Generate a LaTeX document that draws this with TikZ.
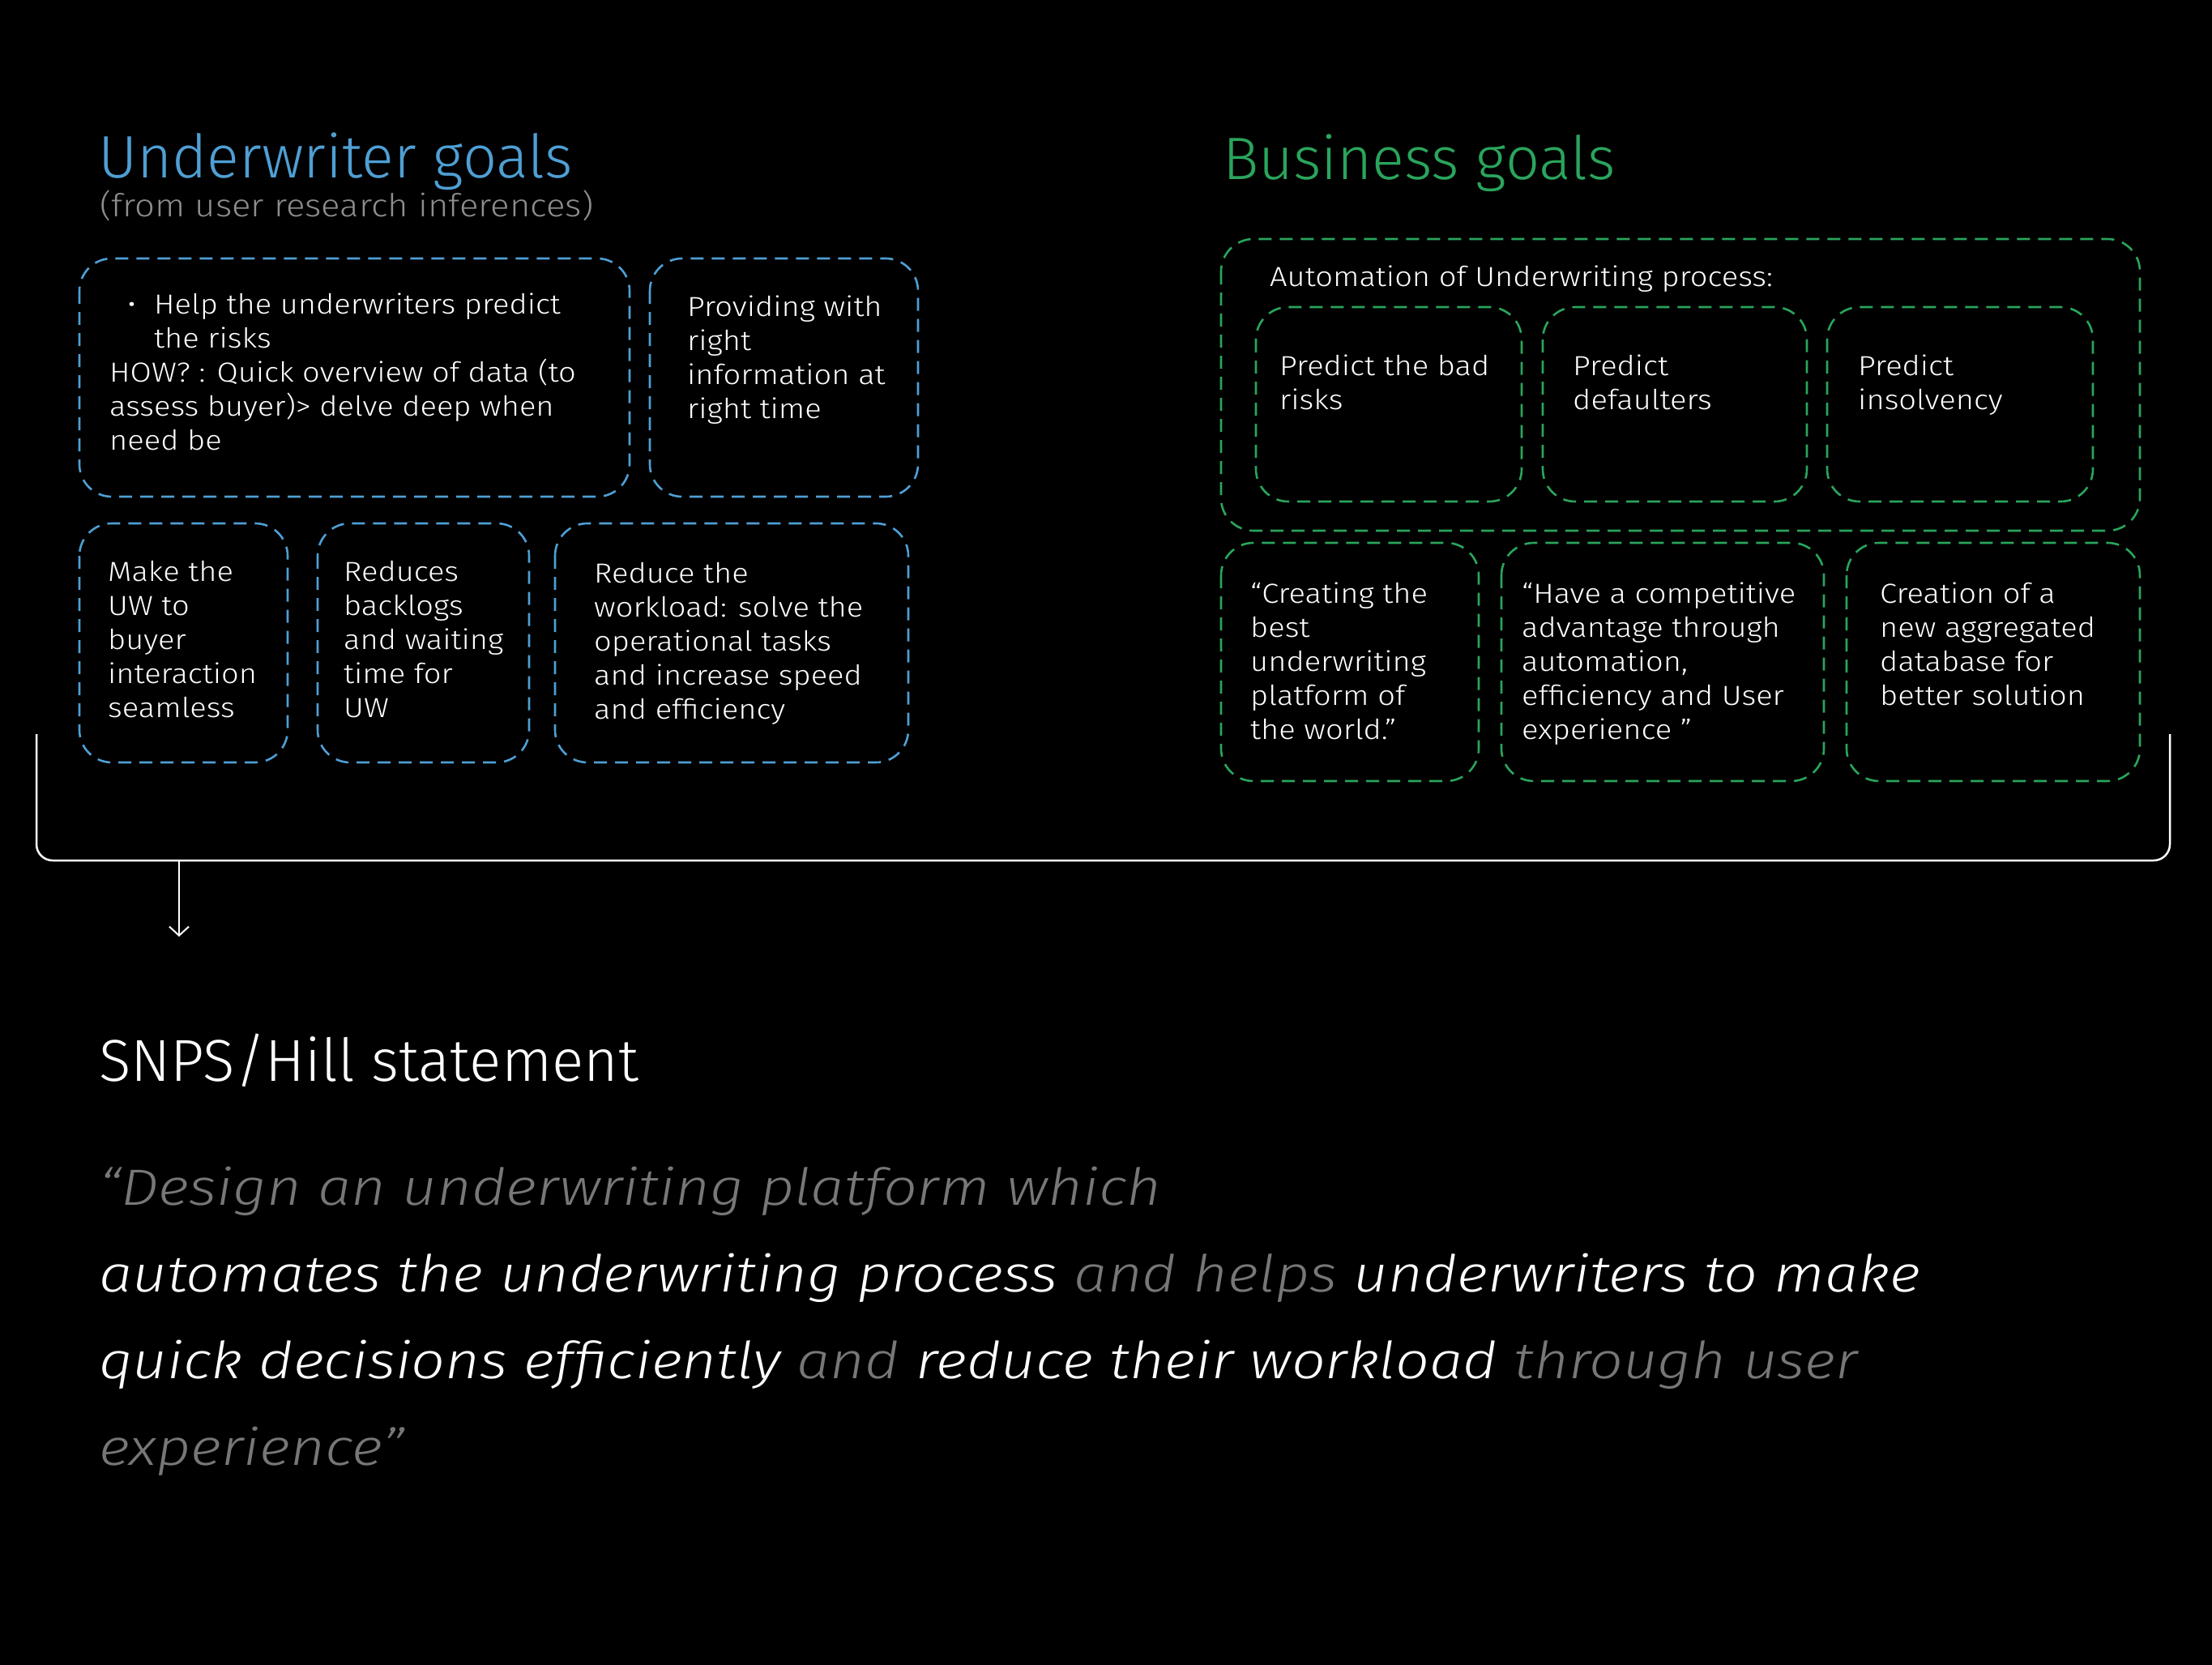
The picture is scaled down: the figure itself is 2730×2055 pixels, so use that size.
\documentclass[tikz,border=0pt]{standalone}
\usepackage{fontspec}
\setmainfont{Fira Sans}[UprightFont={* Light}, ItalicFont={* Light Italic}]
\newfontfamily\widefont{Fira Sans}[UprightFont={* Light}, FakeStretch=1.12]
\newfontfamily\quotefont{Fira Sans}[UprightFont={* Light Italic}, FakeStretch=1.17]
\usetikzlibrary{arrows.meta}
\definecolor{uwblue}{HTML}{4F9FD4}
\definecolor{bgreen}{HTML}{2AA55C}
\definecolor{subgray}{HTML}{8D8D8D}
\definecolor{qgray}{HTML}{777777}
\tikzset{
  ubox/.style={draw=uwblue, line width=2.6pt, dash pattern=on 16pt off 10pt, rounded corners=40pt},
  gbox/.style={draw=bgreen, line width=2.6pt, dash pattern=on 16pt off 10pt, rounded corners=40pt},
  btxt/.style={anchor=north west, inner sep=0pt, align=left, text=white, font=\widefont\fontsize{34}{42}\selectfont},
  title/.style={anchor=base west, inner sep=0pt, font=\fontsize{74}{88}\selectfont},
}
\begin{document}
\begin{tikzpicture}[x=1pt, y=-1pt]
\fill[black] (0,0) rectangle (2730,2055);
\useasboundingbox (0,0) rectangle (2730,2055);

% titles
\node[title, text=uwblue] (uwt) at (121,219) {Underwriter goals};
\node[anchor=base west, inner sep=0pt, text=subgray, font=\widefont\fontsize{39}{46}\selectfont] (uws) at (123,267) {(from user research inferences)};
\node[title, text=bgreen] (bgt) at (1509,222) {Business goals};

% underwriter boxes
\draw[ubox] (98,319) rectangle (777,613);
\draw[ubox] (802,319) rectangle (1133,613);
\draw[ubox] (98,646) rectangle (355,941);
\draw[ubox] (392,646) rectangle (653,941);
\draw[ubox] (685,646) rectangle (1121,941);

\node[btxt] (ua) at (135,357.6) {\strut\hspace*{22pt}\makebox[33pt][l]{•}Help the underwriters predict\\ \hspace*{55pt}the risks\\ HOW? : Quick overview of data (to\\ assess buyer)> delve deep when\\ need be};
\node[btxt] (ub) at (848,360.6) {\strut Providing with\\right\\information at\\right time};
\node[btxt] (uc) at (133,687.6) {\strut Make the\\UW to\\buyer\\interaction\\seamless};
\node[btxt] (ud) at (424,687.6) {\strut Reduces\\backlogs\\and waiting\\time for\\UW};
\node[btxt] (ue) at (733,689.6) {\strut Reduce the\\workload: solve the\\operational tasks\\and increase speed\\and efficiency};

% business boxes
\draw[gbox] (1507,295) rectangle (2641,655);
\draw[gbox] (1550,379) rectangle (1878,619);
\draw[gbox] (1904,379) rectangle (2230,619);
\draw[gbox] (2255,379) rectangle (2583,619);
\draw[gbox] (1507,670) rectangle (1825,964);
\draw[gbox] (1853,670) rectangle (2251,964);
\draw[gbox] (2279,670) rectangle (2641,964);

\node[btxt] (ga) at (1567,323.6) {\strut Automation of Underwriting process:};
\node[btxt] (g1) at (1579,433.6) {\strut Predict the bad\\risks};
\node[btxt] (g2) at (1941,433.6) {\strut Predict\\defaulters};
\node[btxt] (g3) at (2293,433.6) {\strut Predict\\insolvency};
\node[btxt] (g4) at (1543,714.6) {\strut “Creating the\\best\\underwriting\\platform of\\the world.”};
\node[btxt] (g5) at (1878,714.6) {\strut “Have a competitive\\advantage through\\automation,\\efficiency and User\\experience ”};
\node[btxt] (g6) at (2320,714.6) {\strut Creation of a\\new aggregated\\database for\\better solution};

% bracket and arrow
\coordinate (bl) at (45,906);
\coordinate (br) at (2678,906);
\coordinate (bm) at (221,1062);
\coordinate (arr) at (221,1156);
\draw[white, line width=2.5pt, rounded corners=20pt] (bl) |- (br |- bm) -- (br);
\draw[white, line width=2pt, -{Straight Barb[length=11pt,width=24pt]}] (bm) -- (arr);

% statement
\node[anchor=base west, inner sep=0pt, text=white, font=\fontsize{73}{86}\selectfont] (snps) at (122,1334) {SNPS/Hill statement};
\node[anchor=north west, inner sep=0pt, align=left, text=white, font=\quotefont\fontsize{63}{107}\selectfont] (quote) at (122,1412.1) {\strut{\color{qgray}“Design an underwriting platform which}\\
automates the underwriting process {\color{qgray}and helps} underwriters to make\\
quick decisions efficiently {\color{qgray}and} reduce their workload {\color{qgray}through user}\\
{\color{qgray}experience”}};
\end{tikzpicture}
\end{document}
